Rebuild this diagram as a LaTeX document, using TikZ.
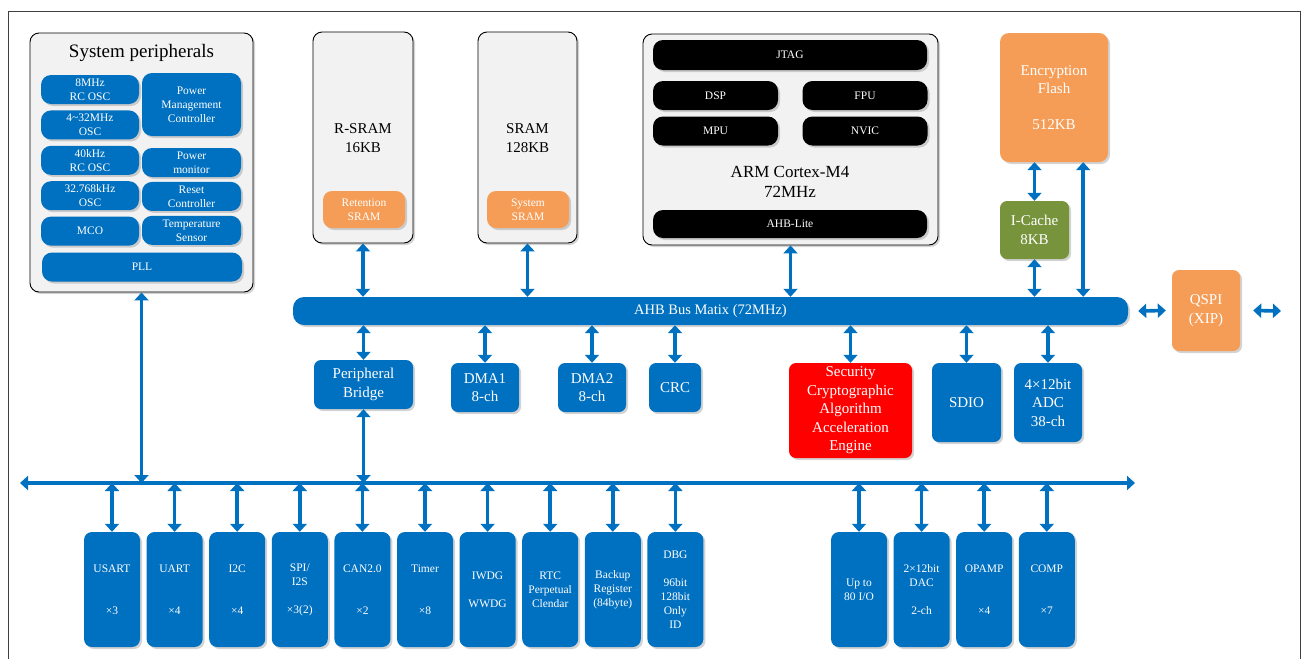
\documentclass[tikz,border=0pt]{standalone}
\usepackage{fontspec}
\setmainfont{Liberation Serif}
\usetikzlibrary{positioning,shadows,arrows.meta,calc}
\definecolor{bblue}{HTML}{0070C0}
\definecolor{borange}{HTML}{F59D56}
\definecolor{bgreen}{HTML}{77933C}
\definecolor{bgray}{HTML}{F2F2F2}

\begin{document}
\begin{tikzpicture}[x=1pt, y=-1pt,
    shade box/.style={rounded corners=7pt, inner sep=0pt, align=center,
      drop shadow={opacity=0.35, shadow xshift=2pt, shadow yshift=-2pt}},
    panel/.style={shade box, draw=black, line width=0.9pt, fill=bgray, rounded corners=9pt},
    blu/.style={shade box, fill=bblue, text=white},
    org/.style={shade box, fill=borange, text=white},
    blk/.style={shade box, fill=black, text=white, rounded corners=10pt, sm},
    sm/.style={font=\fontsize{11.5}{14}\selectfont},
    md/.style={font=\fontsize{15}{18.5}\selectfont, align=center},
    sp/.style={blu, sm, minimum width=98pt, minimum height=29pt, rounded corners=10pt},
    io/.style={blu, sm, minimum width=56pt, minimum height=115pt, rounded corners=8pt},
    bidir/.style={draw=bblue, line width=3.6pt,
      {Triangle[width=14pt,length=8pt]}-{Triangle[width=14pt,length=8pt]}},
    node distance=6.2pt]
  \useasboundingbox (0,0) rectangle (1301,659);
  \draw[line width=0.8pt, black!75] (8,659) -- (8,11) -- (1300,11) -- (1300,659);

  % system peripherals
  \node[panel, minimum width=223pt, minimum height=259pt] (sysp) at (141.5,162.5) {};
  \node[font=\fontsize{19}{22}\selectfont] (sysptitle) at (141.5,53) {System peripherals};
  \node[sp] (rc8) at (90,89.5) {8MHz\\RC OSC};
  \node[sp, below=6pt of rc8] (hse) {4\textasciitilde32MHz\\OSC};
  \node[sp, below=6pt of hse] (rc40) {40kHz\\RC OSC};
  \node[sp, below=6pt of rc40] (lse) {32.768kHz\\OSC};
  \node[sp, below=6pt of lse] (mco) {MCO};
  \node[sp, minimum width=99pt, minimum height=63pt] (pmc) at (191.5,104.5) {Power\\Management\\Controller};
  \node[sp, minimum width=99pt] (pmon) at (191.5,162.5) {Power\\monitor};
  \node[sp, minimum width=99pt, below=4.5pt of pmon] (rstc) {Reset\\Controller};
  \node[sp, minimum width=99pt, below=4.5pt of rstc] (tsen) {Temperature\\Sensor};
  \node[sp, minimum width=200pt] (pll) at (142,267) {PLL};

  % memories
  \node[panel, minimum width=100pt, minimum height=211pt] (rsram) at (363,137.5) {};
  \node[md] (rsramt) at (363,138) {R-SRAM\\16KB};
  \node[org, sm, minimum width=82pt, minimum height=37pt, rounded corners=9pt] (ret) at (364,209.5) {Retention\\SRAM};
  \node[panel, minimum width=99pt, minimum height=211pt] (sram) at (527.5,137.5) {};
  \node[md] (sramt) at (527.5,138) {SRAM\\128KB};
  \node[org, sm, minimum width=82pt, minimum height=37pt, rounded corners=9pt] (sysram) at (528,209.5) {System\\SRAM};

  % core
  \node[panel, minimum width=295pt, minimum height=211pt] (arm) at (790.5,139.5) {};
  \node[blk, minimum width=274pt, minimum height=30pt] (jtag) at (790,55) {JTAG};
  \node[blk, minimum width=125pt, minimum height=29pt] (dsp) at (715.5,95.5) {DSP};
  \node[blk, minimum width=125pt, minimum height=29pt] (fpu) at (865,95.5) {FPU};
  \node[blk, minimum width=125pt, minimum height=29pt] (mpu) at (715.5,131) {MPU};
  \node[blk, minimum width=125pt, minimum height=29pt] (nvic) at (865,131) {NVIC};
  \node[font=\fontsize{17}{20}\selectfont, align=center] (armt) at (790,182) {ARM Cortex-M4\\72MHz};
  \node[blk, minimum width=274pt, minimum height=28pt] (ahblite) at (790,224) {AHB-Lite};

  % flash
  \node[org, md, minimum width=108pt, minimum height=129pt, rounded corners=9pt] (flash) at (1054,97.5) {Encryption\\Flash\\[17pt]512KB};
  \node[shade box, fill=bgreen, text=white, md, minimum width=69pt, minimum height=58pt] (icache) at (1034.5,230) {I-Cache\\8KB};
  \node[org, md, minimum width=68pt, minimum height=81pt] (qspi) at (1206,310.5) {QSPI\\(XIP)};

  \node[blu, minimum width=835pt, minimum height=28pt, rounded corners=11pt,
    font=\fontsize{14.5}{17}\selectfont] (ahb) at (710.5,311) {AHB Bus Matix (72MHz)};

  \node[blu, md, minimum width=99pt, minimum height=49pt] (pb) at (363.5,384.5) {Peripheral\\Bridge};
  \node[blu, md, minimum width=68pt, minimum height=49pt] (dma1) at (485,387.5) {DMA1\\8-ch};
  \node[blu, md, minimum width=68pt, minimum height=49pt] (dma2) at (592,387.5) {DMA2\\8-ch};
  \node[blu, md, minimum width=52pt, minimum height=49pt] (crc) at (675,387.5) {CRC};
  \node[shade box, fill=red, text=white, md, minimum width=123pt, minimum height=95pt] (sec) at (850.5,410.5) {Security\\Cryptographic\\Algorithm\\Acceleration\\Engine};
  \node[blu, md, minimum width=69pt, minimum height=79pt] (sdio) at (966.5,402.5) {SDIO};
  \node[blu, md, minimum width=68pt, minimum height=79pt] (adc) at (1048,402.5) {4×12bit\\ADC\\38-ch};

  % peripheral bus
  \node[io] (usart) at (112,589.5) {USART\\[28pt]×3};
  \node[io, right=of usart] (uart) {UART\\[28pt]×4};
  \node[io, right=of uart] (iic) {I2C\\[28pt]×4};
  \node[io, right=of iic] (spi) {SPI/\\I2S\\[14pt]×3(2)};
  \node[io, right=of spi] (can) {CAN2.0\\[28pt]×2};
  \node[io, right=of can] (timer) {Timer\\[28pt]×8};
  \node[io, right=of timer] (wdg) {IWDG\\[14pt]WWDG};
  \node[io, right=of wdg] (rtc) {RTC\\Perpetual\\Clendar};
  \node[io, right=of rtc] (bkp) {Backup\\Register\\(84byte)};
  \node[io, right=of bkp] (dbg) {DBG\\[14pt]96bit\\128bit\\Only\\ID};
  \node[io] (gpio) at (859,589.5) {Up to\\80 I/O};
  \node[io, right=of gpio] (dac) {2×12bit\\DAC\\[14pt]2-ch};
  \node[io, right=of dac] (opamp) {OPAMP\\[28pt]×4};
  \node[io, right=of opamp] (comp) {COMP\\[28pt]×7};

  \coordinate (pl) at (20,483);
  \coordinate (pr) at (1135,483);
  \coordinate (qout) at (1281,311);
  \coordinate (fl) at ([xshift=-25pt]flash.south east);

  \draw[bidir] (pl) -- (pr);
  \foreach \n in {usart,uart,iic,spi,can,timer,wdg,rtc,bkp,dbg,gpio,dac,opamp,comp}
    \draw[bidir] (\n.north) -- (\n.north |- pl);
  \draw[bidir] (sysp.south) -- (sysp.south |- pl);
  \draw[bidir] (pb.south) -- (pb.south |- pl);
  \foreach \n in {rsram,sram,arm,icache,fl}
    \draw[bidir] (\n.south) -- (\n.south |- ahb.north);
  \foreach \n in {pb,dma1,dma2,crc,sec,sdio,adc}
    \draw[bidir] (\n.north) -- (\n.north |- ahb.south);
  \draw[bidir] (icache.north) -- (icache.north |- flash.south);
  \draw[bidir] ([xshift=10pt]ahb.east) -- ([xshift=-6pt]qspi.west);
  \draw[bidir] ([xshift=13pt]qspi.east) -- (qout);
\end{tikzpicture}
\end{document}
